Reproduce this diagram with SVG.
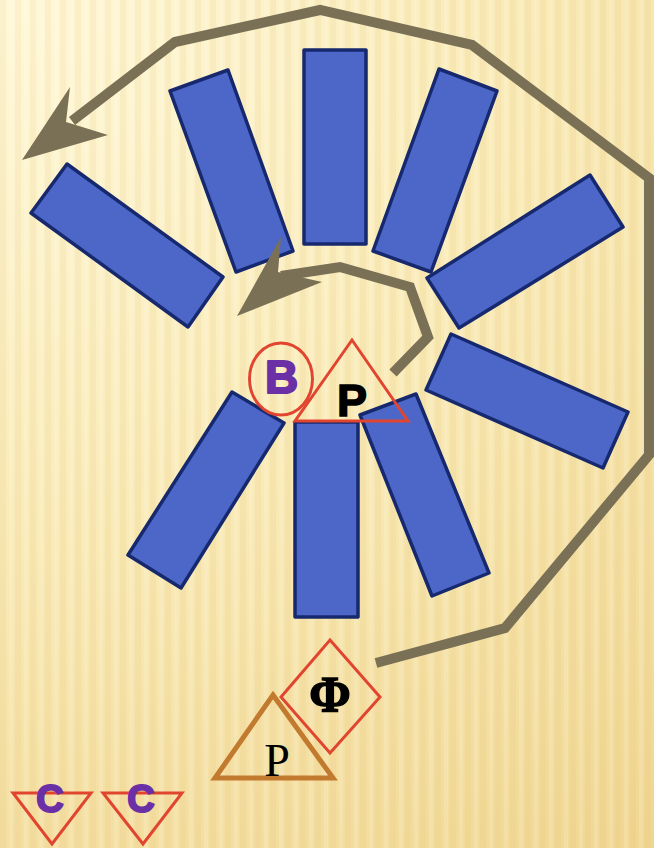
<svg xmlns="http://www.w3.org/2000/svg" width="654" height="848" viewBox="0 0 654 848">
<defs>
<radialGradient id="bg" cx="0" cy="0" r="1100" gradientUnits="userSpaceOnUse">
<stop offset="0" stop-color="#fff8d8"/>
<stop offset="0.5" stop-color="#f9eab6"/>
<stop offset="1" stop-color="#f0d58f"/>
</radialGradient>
<pattern id="stripes" width="15" height="848" patternUnits="userSpaceOnUse">
<rect x="0" y="0" width="6" height="848" fill="#d9b860" opacity="0.1"/>
<rect x="9" y="0" width="4" height="848" fill="#ffffff" opacity="0.14"/>
</pattern>
<style>
.bar{fill:#4d67c9;stroke:#17296e;stroke-width:3.5;stroke-linejoin:round}
.conn{fill:none;stroke:#7a7055;stroke-width:10;stroke-linejoin:miter}
.head{fill:#7a7055}
.red{fill:none;stroke:#e2452f;stroke-width:3}
.sans{font-family:"Liberation Sans",Arial,sans-serif;font-weight:bold;text-anchor:middle}
.serif{font-family:"Liberation Serif","Times New Roman",serif;text-anchor:middle}
.purple{fill:#6b2fa6;stroke:#6b2fa6;stroke-width:2;stroke-linejoin:round}
</style>
</defs>
<rect width="654" height="848" fill="url(#bg)"/>
<rect width="654" height="848" fill="url(#stripes)"/>

<g id="bar-left"><polygon class="bar" points="67,164 31,213 188,327 223,277"/></g>
<g id="bar-upper-left"><polygon class="bar" points="170,91 228,70 293,251 236,272"/></g>
<g id="bar-top"><rect class="bar" x="304" y="50" width="62" height="194"/></g>
<g id="bar-upper-right"><polygon class="bar" points="439,69 497,91 431,272 373,251"/></g>
<g id="bar-right"><polygon class="bar" points="590,175 623,227 459,328 427,278"/></g>
<g id="bar-lower-right"><polygon class="bar" points="451,334 628,412 603,468 426,390"/></g>
<g id="bar-bottom-left"><polygon class="bar" points="232,392 284,423 181,588 128,555"/></g>
<g id="bar-bottom"><rect class="bar" x="295" y="422" width="63" height="195"/></g>
<g id="bar-bottom-right"><polygon class="bar" points="360,415 416,394 489,573 432,596"/></g>

<g id="connectors">
<polyline class="conn" points="376,663 505,628 649,455 649,178 472,45 320,10 175,42 72,121"/>
<polygon class="head" points="22,160 70,87 66,122 108,135"/>
<polyline class="conn" points="393,373 428,337 410,287 340,267 281,276"/>
<polygon class="head" points="237,316 281,237 278,272 322,282"/>
</g>

<g id="node-B">
<ellipse class="red" cx="281" cy="379" rx="31.5" ry="36"/>
<text class="sans purple" x="281.5" y="393" font-size="46">B</text>
</g>
<g id="node-P1">
<polygon class="red" points="352,340 295,421 408,421"/>
<text class="sans" x="352" y="416" font-size="45" fill="#000" stroke="#000" stroke-width="1.5">P</text>
</g>
<g id="node-Phi">
<polygon class="red" points="330,640 380,697 330,753 281,697"/>
<text class="serif" x="330" y="711" font-size="50" font-weight="bold" fill="#000" stroke="#000" stroke-width="1.5">Φ</text>
</g>
<g id="node-P2">
<polygon points="273,695 333,778 215,778" fill="none" stroke="#c27a2e" stroke-width="5" stroke-linejoin="miter"/>
<text class="serif" x="277" y="776" font-size="46" fill="#000">P</text>
</g>
<g id="node-C1">
<polygon class="red" points="13,793 91,793 52,844" stroke-width="2.5"/>
<text class="sans purple" x="50" y="812" font-size="38">C</text>
</g>
<g id="node-C2">
<polygon class="red" points="103,793 182,793 143,844" stroke-width="2.5"/>
<text class="sans purple" x="141" y="812" font-size="38">C</text>
</g>
</svg>
